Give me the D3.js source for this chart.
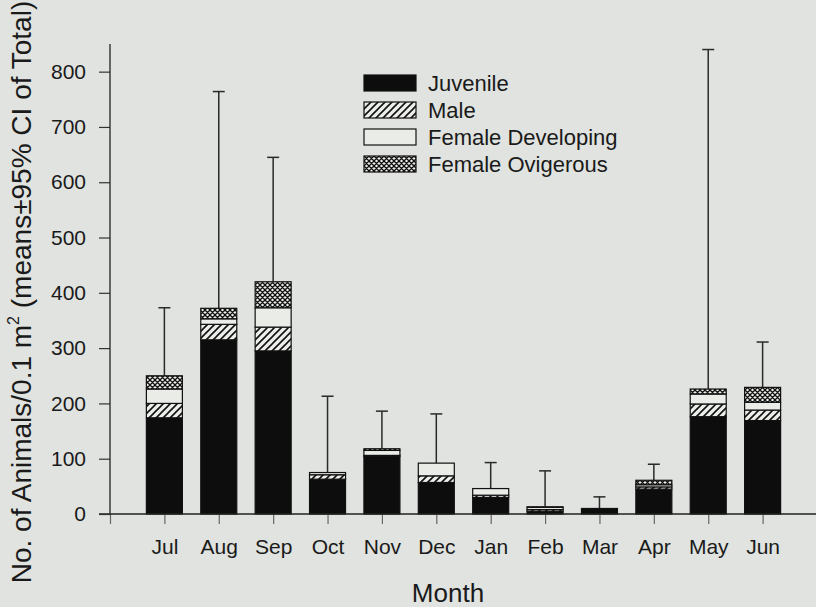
<!DOCTYPE html>
<html>
<head>
<meta charset="utf-8">
<script src="https://cdn.jsdelivr.net/npm/d3@7"></script>
<style>
  html, body { margin: 0; padding: 0; background: #e0e3df; }
  svg { display: block; }
  text { font-family: "Liberation Sans", Arial, sans-serif; fill: #1a1a1a; }
</style>
</head>
<body>
<svg id="chart" width="816" height="607"></svg>
<script>
// Monthly mean abundance per 0.1 m², stacked by life stage, with upper 95% CI of the total
const months = ["Jul", "Aug", "Sep", "Oct", "Nov", "Dec", "Jan", "Feb", "Mar", "Apr", "May", "Jun"];
const juvenile         = [174, 315, 295, 63, 104, 57, 30, 5, 10, 45, 176, 169];
const male             = [26, 28, 43, 8, 2, 12, 4, 3, 0, 4, 23, 19];
const femaleDeveloping = [26, 10, 35, 4, 9, 23, 12, 4, 0, 4, 18, 14];
const femaleOvigerous  = [24, 19, 47, 0, 3, 0, 0, 1, 0, 8, 9, 27];
const ciUpper          = [373, 764, 645, 213, 186, 181, 93, 78, 31, 90, 840, 311];
const yTicks = [0, 100, 200, 300, 400, 500, 600, 700, 800];
const seriesNames = ["Juvenile", "Male", "Female Developing", "Female Ovigerous"];

const svg = d3.select("#chart");
const bg = "#e0e3df";
svg.append("rect").attr("width", 816).attr("height", 607).attr("fill", bg);

// fill patterns for the life stages
const defs = svg.append("defs");
const hatch = defs.append("pattern").attr("id", "hatch")
  .attr("patternUnits", "userSpaceOnUse").attr("width", 7).attr("height", 7);
hatch.append("rect").attr("width", 7).attr("height", 7).attr("fill", "#eceee9");
hatch.append("path").attr("d", "M-1,1 l2,-2 M0,7 l7,-7 M6,8 l2,-2")
  .attr("stroke", "#111").attr("stroke-width", 1.6);

const cross = defs.append("pattern").attr("id", "cross")
  .attr("patternUnits", "userSpaceOnUse").attr("width", 5).attr("height", 5);
cross.append("rect").attr("width", 5).attr("height", 5).attr("fill", "#eceee9");
cross.append("path").attr("d", "M-1,1 l2,-2 M0,5 l5,-5 M4,6 l2,-2 M-1,4 l2,2 M0,0 l5,5 M4,-1 l2,2")
  .attr("stroke", "#111").attr("stroke-width", 1.3);

const fills = ["#0d0d0d", "url(#hatch)", "#eaece8", "url(#cross)"];

const x = d3.scaleLinear().domain([0, 13]).range([110, 817]);
const y = d3.scaleLinear().domain([0, 850]).range([514, 44]);
const barW = 36;

// stacked data
const rows = months.map((m, i) => ({
  idx: i + 1, month: m,
  s0: juvenile[i], s1: male[i], s2: femaleDeveloping[i], s3: femaleOvigerous[i],
  ci: ciUpper[i]
}));
const stack = d3.stack().keys(["s0", "s1", "s2", "s3"])(rows);

// error bars (drawn first so the bar covers the lower end)
const eb = svg.append("g").attr("stroke", "#2a2a2a").attr("stroke-width", 1.5);
rows.forEach(d => {
  const total = d.s0 + d.s1 + d.s2 + d.s3;
  eb.append("line").attr("x1", x(d.idx)).attr("x2", x(d.idx))
    .attr("y1", y(total)).attr("y2", y(d.ci));
  eb.append("line").attr("x1", x(d.idx) - 6).attr("x2", x(d.idx) + 6)
    .attr("y1", y(d.ci)).attr("y2", y(d.ci));
});

// bars
stack.forEach((layer, k) => {
  svg.append("g").selectAll("rect").data(layer.filter(s => s[1] - s[0] > 0)).join("rect")
    .attr("x", s => x(s.data.idx) - barW / 2)
    .attr("width", barW)
    .attr("y", s => y(s[1]))
    .attr("height", s => y(s[0]) - y(s[1]))
    .attr("fill", fills[k])
    .attr("stroke", "#111").attr("stroke-width", 1.2);
});

// axes
const xAxis = d3.axisBottom(x)
  .tickValues(d3.range(0, 14))
  .tickFormat(i => (i >= 1 && i <= 12) ? months[i - 1] : "")
  .tickSize(10).tickPadding(15);
const gx = svg.append("g").attr("transform", "translate(0,514)").call(xAxis);
gx.select(".domain").remove();
gx.selectAll(".tick line").attr("stroke", "#666").attr("stroke-width", 1.2);
gx.selectAll("text").attr("font-size", 21).attr("fill", "#1a1a1a")
  .attr("font-family", "'Liberation Sans', Arial, sans-serif");
svg.append("line").attr("x1", 99).attr("x2", 816).attr("y1", 514).attr("y2", 514)
  .attr("stroke", "#222").attr("stroke-width", 1.3);

const yAxis = d3.axisLeft(y).tickValues(yTicks).tickSize(11).tickPadding(13);
const gy = svg.append("g").attr("transform", "translate(110,0)").call(yAxis);
gy.select(".domain").remove();
gy.selectAll(".tick line").attr("stroke", "#333").attr("stroke-width", 1.2);
gy.selectAll("text").attr("font-size", 21).attr("fill", "#1a1a1a")
  .attr("font-family", "'Liberation Sans', Arial, sans-serif");
svg.append("line").attr("x1", 110).attr("x2", 110).attr("y1", 514).attr("y2", 44)
  .attr("stroke", "#222").attr("stroke-width", 1.3);

// axis titles
svg.append("text").attr("x", 448).attr("y", 602).attr("text-anchor", "middle")
  .attr("font-size", 26).text("Month");

const yt = svg.append("text").attr("transform", "translate(31,292) rotate(-90)")
  .attr("text-anchor", "middle").attr("font-size", 28);
yt.append("tspan").text("No. of Animals/0.1 m");
yt.append("tspan").attr("font-size", 16).attr("dy", -12).text("2");
yt.append("tspan").attr("dy", 12).text("\u00a0(means±95% CI of Total)");

// legend
const lg = svg.append("g").attr("transform", "translate(364,75)");
seriesNames.forEach((name, k) => {
  const row = lg.append("g").attr("transform", `translate(0,${k * 27})`);
  row.append("rect").attr("width", 52).attr("height", 16)
    .attr("fill", fills[k]).attr("stroke", "#111").attr("stroke-width", 1.2);
  row.append("text").attr("x", 64).attr("y", 8).attr("dy", "0.35em")
    .attr("font-size", 22).text(name);
});
</script>
</body>
</html>
